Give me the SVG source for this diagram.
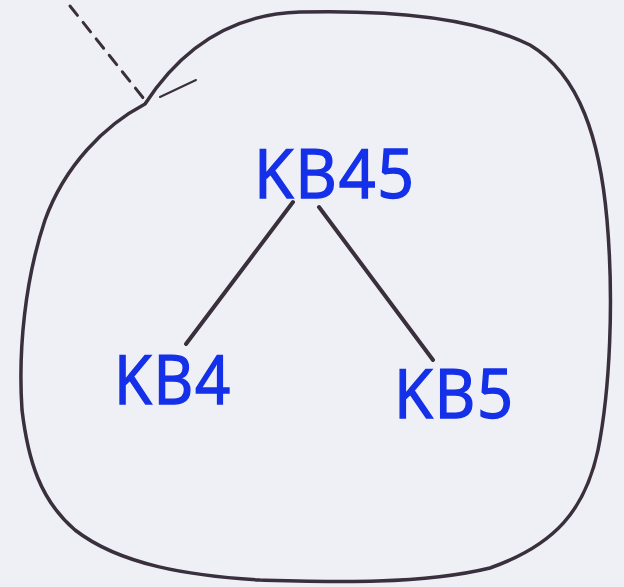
<svg xmlns="http://www.w3.org/2000/svg" width="624" height="587" viewBox="0 0 624 587">
<style>
.ink{fill:none;stroke:#3a2f3c;stroke-linecap:round;stroke-linejoin:round}
.lbl{font-family:"Open Sans","Liberation Sans",sans-serif;font-size:68px;fill:#1430e8;stroke:#1430e8;stroke-width:1.5;letter-spacing:2px}
</style>
<rect width="624" height="587" fill="#eef0f6"/>
<g id="boundary">
<path class="ink" stroke-width="3.5" d="M145,104 C180,50 230,14 300,12 C380,10 470,15 530,45 C580,75 600,140 607,220 C614,300 610,390 598,450 C585,510 555,545 490,568 C420,585 330,582 260,580 C190,576 120,565 75,530 C40,500 28,460 22,410 C18,350 25,280 45,220 C65,165 105,125 145,104 Z"/>
<path class="ink" stroke-width="2" d="M160,97 L196,80"/>
</g>
<g id="connectors">
<path class="ink" stroke-width="3" stroke-dasharray="12,9" d="M70,6 L148,104"/>
<path class="ink" stroke-width="4" d="M293,202 L186,344"/>
<path class="ink" stroke-width="4" d="M319,207 L433,360"/>
</g>
<g id="KB45"><text class="lbl" x="254" y="198" textLength="162" lengthAdjust="spacingAndGlyphs">KB45</text></g>
<g id="KB4"><text class="lbl" x="114" y="404" textLength="118" lengthAdjust="spacingAndGlyphs">KB4</text></g>
<g id="KB5"><text class="lbl" x="394" y="418" textLength="121" lengthAdjust="spacingAndGlyphs">KB5</text></g>
</svg>
